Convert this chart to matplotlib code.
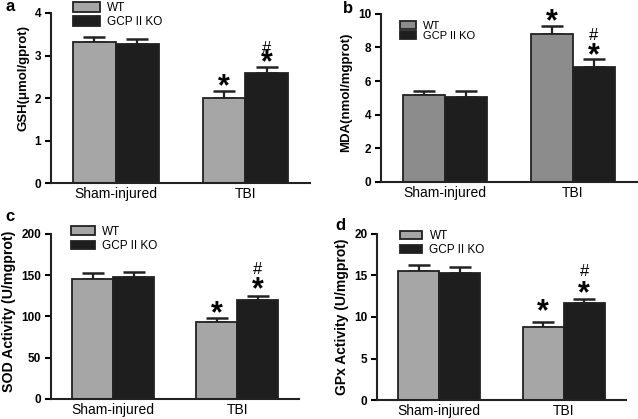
import matplotlib.pyplot as plt
import numpy as np

groups = ["Sham-injured", "TBI"]
series = ["WT", "GCP II KO"]

# mean and upper SEM per series: [WT, KO] x [Sham, TBI]
gsh_mean = [[3.31, 2.00], [3.27, 2.60]]
gsh_err = [[0.13, 0.16], [0.11, 0.12]]
mda_mean = [[5.14, 8.81], [5.04, 6.83]]
mda_err = [[0.29, 0.48], [0.39, 0.47]]
sod_mean = [[145.5, 93], [147.5, 120]]
sod_err = [[7.5, 4.8], [6, 4.8]]
gpx_mean = [[15.54, 8.83], [15.34, 11.65]]
gpx_err = [[0.66, 0.53], [0.66, 0.48]]

ylabels = ["GSH(\u03bcmol/gprot)", "MDA(nmol/mgprot)",
           "SOD Activity (U/mgprot)", "GPx Activity (U/mgprot)"]
yticks = [[0, 1, 2, 3, 4], [0, 2, 4, 6, 8, 10],
          [0, 50, 100, 150, 200], [0, 5, 10, 15, 20]]
letters = ["a", "b", "c", "d"]

plt.rcParams["font.family"] = ["Liberation Sans", "DejaVu Sans"]

fig = plt.figure(figsize=(6.38, 4.19), dpi=100)

# layout per panel: axes rect (fig fraction), legend anchor, handle size,
# label size/centre, letter position, glyph offsets (px) above error caps
panels = [
    dict(rect=[0.080, 0.563, 0.406, 0.406], wt="#a6a6a6", leg=(0.085, 1.065),
         hl=2.3, hh=0.85, lfs=8.5, ls=0.2, yfs=9.5, ly=0.62,
         letter=(0.008, 0.974), star=(9, 9), hash=20),
    dict(rect=[0.597, 0.566, 0.401, 0.401], wt="#8c8c8c", leg=(0.074, 0.96),
         hl=1.5, hh=0.7, lfs=8, ls=0.05, yfs=9.5, ly=0.535,
         letter=(0.538, 0.969), star=(9, 8), hash=25),
    dict(rect=[0.080, 0.048, 0.389, 0.394], wt="#a6a6a6", leg=(0.08, 1.05),
         hl=2.0, hh=0.7, lfs=8.5, ls=0.2, yfs=10.2, ly=0.53,
         letter=(0.009, 0.472), star=(9, 11), hash=28),
    dict(rect=[0.591, 0.045, 0.390, 0.397], wt="#a6a6a6", leg=(0.092, 1.02),
         hl=1.9, hh=0.7, lfs=8.5, ls=0.15, yfs=10, ly=0.5,
         letter=(0.525, 0.451), star=(15, 10), hash=29),
]
means = [gsh_mean, mda_mean, sod_mean, gpx_mean]
errs = [gsh_err, mda_err, sod_err, gpx_err]

x = np.arange(len(groups))
w = 0.33
for i, p in enumerate(panels):
    ax = fig.add_axes(p["rect"])
    colors = [p["wt"], "#1e1e1e"]
    top = yticks[i][-1]
    for s in range(2):
        xs = x - w / 2 + s * w
        ax.bar(xs, means[i][s], width=w, color=colors[s], edgecolor="#222222",
               linewidth=1.3, label=series[s], zorder=2)
        ax.errorbar(xs, means[i][s], yerr=[np.zeros(2), errs[i][s]], fmt="none",
                    ecolor="#222222", elinewidth=1.6, capsize=8, capthick=1.8,
                    zorder=1)
    # significance marks on TBI bars
    for s in range(2):
        cap = means[i][s][1] + errs[i][s][1]
        ax.annotate("*", (1 - w / 2 + s * w, cap),
                    xytext=(0, p["star"][s] - 13), textcoords="offset pixels",
                    ha="center", va="baseline", fontsize=22, fontweight="bold")
    cap = means[i][1][1] + errs[i][1][1]
    ax.annotate("#", (1 + w / 2, cap), xytext=(0, p["hash"] - 6),
                textcoords="offset pixels", ha="center", va="baseline",
                fontsize=12)

    ax.set_xlim(-0.5, 1.5)
    ax.set_ylim(0, top)
    ax.set_yticks(yticks[i])
    ax.set_xticks(x)
    ax.set_xticklabels(groups, fontsize=10)
    ax.tick_params(axis="x", length=0, pad=3)
    ax.tick_params(axis="y", width=1.5, length=4, labelsize=8.5, pad=3)
    for lbl in ax.get_yticklabels():
        lbl.set_fontweight("bold")
    ax.set_ylabel(ylabels[i], fontsize=p["yfs"], fontweight="bold", labelpad=4)
    ax.yaxis.label.set_y(p["ly"])
    for side in ["top", "right"]:
        ax.spines[side].set_visible(False)
    for side in ["left", "bottom"]:
        ax.spines[side].set_linewidth(1.5)
        ax.spines[side].set_color("#222222")
    ax.legend(loc="upper left", bbox_to_anchor=p["leg"], frameon=False,
              fontsize=p["lfs"], handlelength=p["hl"], handleheight=p["hh"],
              borderaxespad=0, borderpad=0, labelspacing=p["ls"],
              handletextpad=0.6)
    fig.text(p["letter"][0], p["letter"][1], letters[i], fontsize=12,
             fontweight="bold", va="baseline")

fig.savefig("out.png", dpi=100)
